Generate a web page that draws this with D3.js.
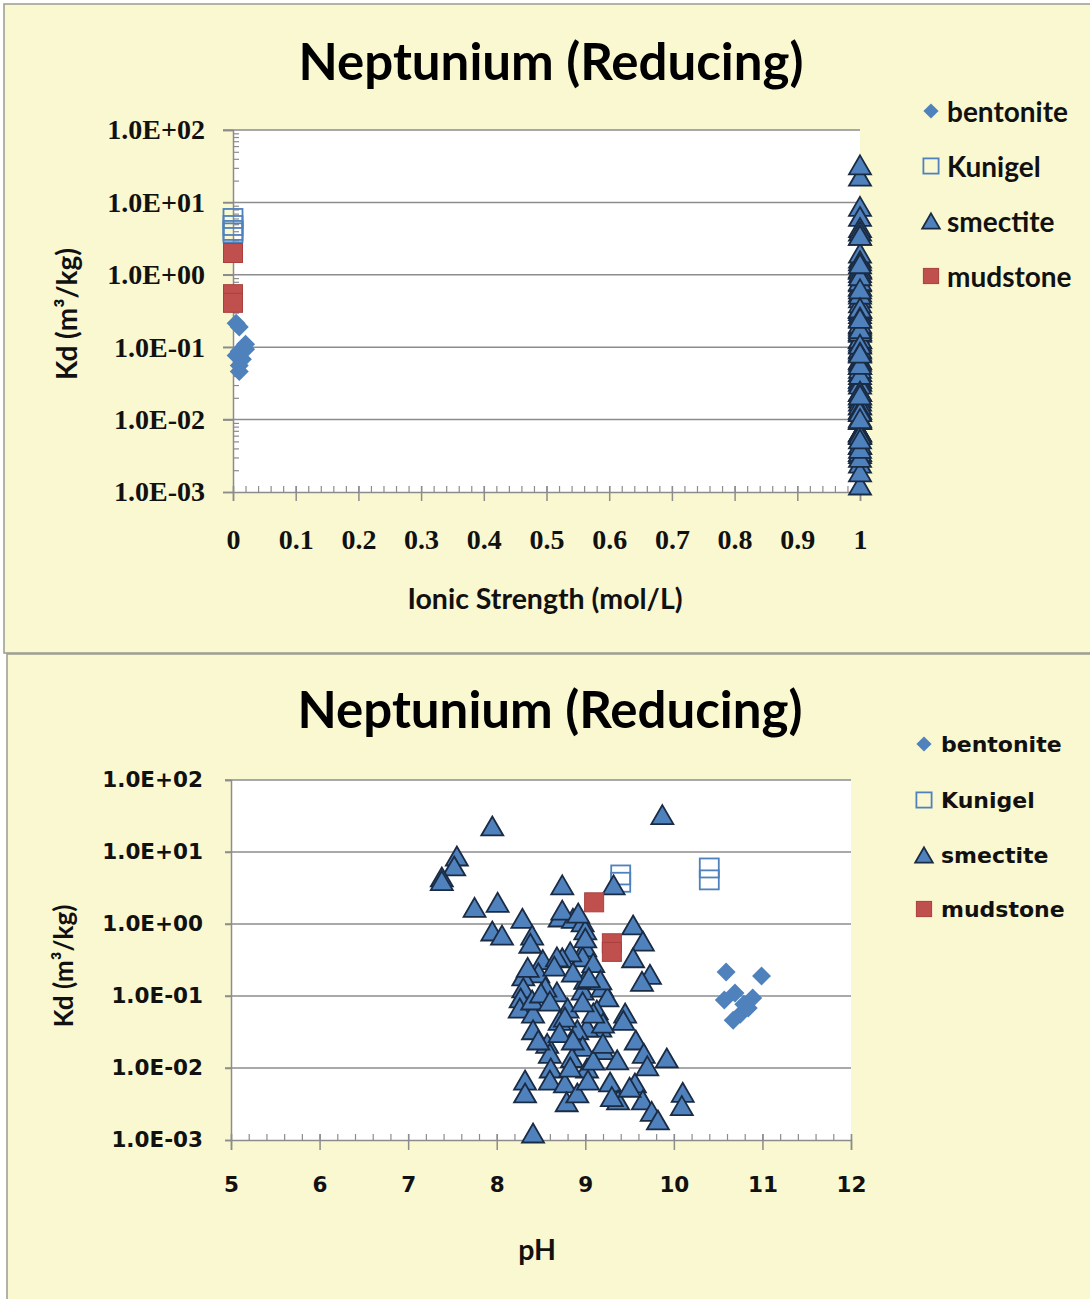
<!DOCTYPE html>
<html>
<head>
<meta charset="utf-8">
<script src="https://cdn.jsdelivr.net/npm/d3@7"></script>
<style>
  html, body { margin: 0; padding: 0; background: #ffffff; }
  svg { display: block; }
</style>
</head>
<body>
<svg id="chart" width="1090" height="1299"></svg>
<script>
// ---- Axis ticks ----
const kdTickValues = [1e-3, 1e-2, 1e-1, 1e0, 1e1, 1e2];
const kdTickLabels = ["1.0E-03", "1.0E-02", "1.0E-01", "1.0E+00", "1.0E+01", "1.0E+02"];
const ionicTickValues = [0, 0.1, 0.2, 0.3, 0.4, 0.5, 0.6, 0.7, 0.8, 0.9, 1];
const ionicTickLabels = ["0", "0.1", "0.2", "0.3", "0.4", "0.5", "0.6", "0.7", "0.8", "0.9", "1"];
const phTickValues = [5, 6, 7, 8, 9, 10, 11, 12];
const phTickLabels = ["5", "6", "7", "8", "9", "10", "11", "12"];

// ---- Series ----
const seriesNames = ["bentonite", "Kunigel", "smectite", "mudstone"];

const bentonitePH    = [10.59, 10.99, 10.57, 10.69, 10.67, 10.75, 10.84, 10.89, 10.79];
const bentoniteIonic = [0.005, 0.010, 0.010, 0.020, 0.010, 0.010, 0.015, 0.020, 0.005];
const bentoniteKd    = [0.215, 0.19, 0.088, 0.11, 0.046, 0.056, 0.068, 0.094, 0.077];

const kunigelPH    = [9.4, 9.4, 10.4, 10.4];
const kunigelIonic = [0, 0, 0, 0];
const kunigelKd    = [4.8, 3.8, 6.0, 4.1];

const smectitePH = [
  7.95, 9.87, 7.55, 7.52, 7.38, 7.38, 7.75, 8.01, 7.95, 8.06,
  8.29, 8.40, 8.74, 8.71, 8.86, 8.97, 9.00, 9.32, 9.54, 9.65,
  9.54, 9.73, 9.64, 9.00, 8.97, 8.83, 8.74, 8.52, 8.47, 8.30,
  8.30, 8.27, 8.26, 8.41, 8.40, 8.41, 8.57, 8.60, 8.61, 8.60,
  8.32, 8.32, 8.41, 8.68, 8.80, 8.71, 8.97, 9.00, 9.19, 9.25,
  9.13, 9.17, 9.02, 8.91, 8.97, 8.85, 9.20, 9.02, 8.77, 8.79,
  8.91, 9.03, 9.28, 9.36, 9.37, 9.45, 9.43, 9.57, 9.66, 9.70,
  9.56, 9.65, 9.75, 9.82, 9.92, 10.10, 10.09, 8.38, 8.55, 8.77,
  8.71, 9.20, 9.09, 8.86, 9.09, 8.83, 9.30, 9.50, 8.86, 9.09,
  9.00, 8.74, 8.92, 8.68, 9.17, 8.47, 9.20, 9.04, 8.65, 8.35,
  8.50, 8.60, 8.97
];
const smectiteIonic = [
  1, 1, 1, 1, 1, 1, 1, 1, 1, 1,
  1, 1, 1, 1, 1, 1, 1, 1, 1, 1,
  1, 1, 1, 1, 1, 1, 1, 1, 1, 1,
  1, 1, 1, 1, 1, 1, 1, 1, 1, 1,
  1, 1, 1, 1, 1, 1, 1, 1, 1, 1,
  1, 1, 1, 1, 1, 1, 1, 1, 1, 1,
  1, 1, 1, 1, 1, 1, 1, 1, 1, 1,
  1, 1, 1, 1, 1, 1, 1, 1, 1, 1,
  1, 1, 1, 1, 1, 1, 1, 1, 1, 1,
  1, 1, 1, 1, 1, 1, 1, 1, 1, 1,
  1, 1, 1
];
const smectiteKd = [
  23, 33, 8.8, 6.4, 4.5, 4.0, 1.7, 2.0, 0.80, 0.70,
  1.2, 0.70, 3.5, 1.25, 1.2, 1.07, 0.83, 3.5, 0.97, 0.58,
  0.34, 0.20, 0.16, 0.48, 0.35, 0.41, 0.34, 0.32, 0.21, 0.19,
  0.13, 0.094, 0.068, 0.058, 0.088, 0.034, 0.022, 0.016, 0.010, 0.0068,
  0.0068, 0.0045, 0.00125, 0.114, 0.068, 0.046, 0.121, 0.17, 0.133, 0.097,
  0.064, 0.037, 0.037, 0.034, 0.020, 0.014, 0.018, 0.010, 0.0062, 0.0034,
  0.0045, 0.0068, 0.0064, 0.013, 0.0036, 0.058, 0.046, 0.0245, 0.016, 0.0107,
  0.0062, 0.0036, 0.0025, 0.0019, 0.0138, 0.0046, 0.0030, 0.54, 0.133, 0.051,
  0.031, 0.042, 0.058, 0.0245, 0.0129, 0.0103, 0.0040, 0.0054, 0.215, 0.29,
  0.64, 1.56, 1.42, 0.35, 0.167, 0.0245, 0.022, 0.18, 0.26, 0.25,
  0.11, 0.085, 0.083
];

const mudstonePH    = [9.1, 9.3, 9.3];
const mudstoneIonic = [0, 0, 0];
const mudstoneKd    = [2.0, 0.54, 0.41];

// ---- Styling ----
const PANEL_BG = "#faf8d0";
const BLUE = "#4f81bd";
const RED = "#c0504d";
const GRID = "#8c8c8c";

const svg = d3.select("#chart");

function zip(xs, ys) { return xs.map((x, i) => ({ x, y: ys[i] })); }

// marker painters (centred at 0,0)
const markers = {
  bentonite(sel, s) {
    const r = 9.5 * s;
    sel.append("path").attr("d", `M0,${-r}L${r},0L0,${r}L${-r},0Z`).attr("fill", BLUE);
  },
  Kunigel(sel, s) {
    const h = 9.5 * s;
    sel.append("rect").attr("x", -h).attr("y", -h).attr("width", 2 * h).attr("height", 2 * h)
      .attr("fill", "none").attr("stroke", BLUE).attr("stroke-width", 1.8);
  },
  smectite(sel, s) {
    const w = 11 * s, h = 9.5 * s;
    sel.append("path").attr("d", `M0,${-h}L${w},${h}L${-w},${h}Z`)
      .attr("fill", BLUE).attr("stroke", "#1a2b44").attr("stroke-width", 1.8).attr("stroke-linejoin", "miter");
  },
  mudstone(sel, s) {
    const h = 9.5 * s;
    sel.append("rect").attr("x", -h).attr("y", -h).attr("width", 2 * h).attr("height", 2 * h)
      .attr("fill", RED).attr("stroke", "#a9403d").attr("stroke-width", 1);
  }
};

function drawPanel(cfg) {
  const g = svg.append("g");
  g.append("rect").attr("x", cfg.frame[0]).attr("y", cfg.frame[1])
    .attr("width", cfg.frame[2]).attr("height", cfg.frame[3])
    .attr("fill", PANEL_BG).attr("stroke", "#9a9a90").attr("stroke-width", 1.5);

  const x = d3.scaleLinear().domain(cfg.xDomain).range([cfg.left, cfg.right]);
  const y = d3.scaleLog().domain([1e-3, 1e2]).range([cfg.bottom, cfg.top]);

  // plot area
  g.append("rect").attr("x", cfg.left).attr("y", cfg.top)
    .attr("width", cfg.right - cfg.left).attr("height", cfg.bottom - cfg.top).attr("fill", "#ffffff");

  // horizontal gridlines at each decade
  g.append("g").selectAll("line").data(kdTickValues.slice(1)).join("line")
    .attr("x1", cfg.left - cfg.yMajorOut).attr("x2", cfg.right)
    .attr("y1", d => y(d)).attr("y2", d => y(d))
    .attr("stroke", GRID).attr("stroke-width", 1.5);

  // y axis
  const yAxis = g.append("g").attr("transform", `translate(${cfg.left},0)`)
    .call(d3.axisLeft(y).tickValues(kdTickValues)
      .tickFormat((d, i) => kdTickLabels[i]).tickSize(cfg.yMajorOut).tickPadding(cfg.yPad));
  yAxis.select(".domain").attr("stroke", GRID).attr("stroke-width", 1.5);
  yAxis.selectAll(".tick line").attr("stroke", GRID).attr("stroke-width", 1.5);
  yAxis.selectAll("text").attr("fill", "#111").style("font-family", cfg.tickFont)
    .style("font-size", cfg.tickSize + "px").style("font-weight", "bold");

  if (cfg.yMinor) {
    const minor = [];
    for (let e = -3; e < 2; e++) for (let m = 2; m <= 9; m++) minor.push(m * Math.pow(10, e));
    const ym = g.append("g").attr("transform", `translate(${cfg.left},0)`)
      .call(d3.axisLeft(y).tickValues(minor).tickFormat("").tickSize(-6));
    ym.select(".domain").remove();
    ym.selectAll(".tick line").attr("stroke", GRID).attr("stroke-width", 1.2);
  }

  // x axis: major ticks cross the line, minor ticks point up
  const xAxis = g.append("g").attr("transform", `translate(0,${cfg.bottom})`)
    .call(d3.axisBottom(x).tickValues(cfg.xTicks)
      .tickFormat((d, i) => cfg.xLabels[i]).tickSize(cfg.xMajorOut).tickPadding(cfg.xPad));
  xAxis.select(".domain").attr("stroke", GRID).attr("stroke-width", 1.5);
  xAxis.selectAll(".tick line").attr("stroke", GRID).attr("stroke-width", 1.5).attr("y1", -6);
  xAxis.selectAll("text").attr("fill", "#111").style("font-family", cfg.tickFont)
    .style("font-size", cfg.tickSize + "px").style("font-weight", "bold");

  const minorX = d3.range(cfg.xDomain[0], cfg.xDomain[1] + 1e-9, cfg.xMinorStep);
  const xm = g.append("g").attr("transform", `translate(0,${cfg.bottom})`)
    .call(d3.axisBottom(x).tickValues(minorX).tickFormat("").tickSize(-6));
  xm.select(".domain").remove();
  xm.selectAll(".tick line").attr("stroke", GRID).attr("stroke-width", 1.2);

  // points, drawn in series order
  cfg.series.forEach(sr => {
    const pts = g.append("g");
    zip(sr.xs, sr.ys).forEach(p => {
      const m = pts.append("g").attr("transform", `translate(${x(p.x)},${y(p.y)})`);
      markers[sr.name](m, 1);
    });
  });

  // title
  g.append("text").attr("x", cfg.titleX).attr("y", cfg.titleY).attr("text-anchor", "middle")
    .style("font-family", "Lato").style("font-weight", "bold").style("font-size", "51px")
    .attr("fill", "#000").text("Neptunium (Reducing)");

  // axis titles
  g.append("text").attr("transform", `translate(${cfg.yTitleX},${cfg.yTitleY}) rotate(-90)`)
    .attr("text-anchor", "middle").attr("dominant-baseline", "central")
    .style("font-family", "Lato").style("font-weight", "bold").style("font-size", cfg.yTitleSize + "px")
    .attr("fill", "#111")
    .text("Kd (m³/kg)");
  g.append("text").attr("x", cfg.xTitleX).attr("y", cfg.xTitleY)
    .attr("text-anchor", "middle").attr("dominant-baseline", "central")
    .style("font-family", "Lato").style("font-weight", "bold").style("font-size", "28.5px")
    .attr("fill", "#111").text(cfg.xTitle);

  // legend
  seriesNames.forEach((name, i) => {
    const ly = cfg.legendY[i];
    const m = g.append("g").attr("transform", `translate(${cfg.legendMarkerX},${ly})`);
    markers[name](m, 0.8);
    g.append("text").attr("x", cfg.legendTextX).attr("y", ly)
      .attr("dominant-baseline", "central")
      .style("font-family", cfg.legendFont).style("font-weight", "bold")
      .style("font-size", cfg.legendSize + "px").attr("fill", "#111").text(name);
  });
}

// upper panel: Kd against ionic strength
drawPanel({
  frame: [4, 4, 1100, 649],
  left: 233, right: 860, top: 130, bottom: 492,
  xDomain: [0, 1], xTicks: ionicTickValues, xLabels: ionicTickLabels, xMinorStep: 0.02,
  yMinor: true, yMajorOut: 10, yPad: 18, xMajorOut: 9, xPad: 28,
  tickFont: "Liberation Serif", tickSize: 28,
  titleX: 551, titleY: 80,
  yTitleX: 66, yTitleY: 314, yTitleSize: 28,
  xTitle: "Ionic Strength (mol/L)", xTitleX: 545, xTitleY: 598,
  legendMarkerX: 931, legendTextX: 947, legendY: [111, 166, 221, 276],
  legendFont: "Lato", legendSize: 28,
  series: [
    { name: "bentonite", xs: bentoniteIonic, ys: bentoniteKd },
    { name: "Kunigel", xs: kunigelIonic, ys: kunigelKd },
    { name: "smectite", xs: smectiteIonic, ys: smectiteKd },
    { name: "mudstone", xs: mudstoneIonic, ys: mudstoneKd }
  ]
});

// lower panel: Kd against pH
drawPanel({
  frame: [7, 654, 1100, 660],
  left: 231, right: 851, top: 780, bottom: 1140,
  xDomain: [5, 12], xTicks: phTickValues, xLabels: phTickLabels, xMinorStep: 0.2,
  yMinor: false, yMajorOut: 6, yPad: 22, xMajorOut: 10, xPad: 27,
  tickFont: "DejaVu Sans", tickSize: 21.5,
  titleX: 550, titleY: 728,
  yTitleX: 63, yTitleY: 966, yTitleSize: 26,
  xTitle: "pH", xTitleX: 537, xTitleY: 1249,
  legendMarkerX: 924, legendTextX: 941, legendY: [744, 800, 855, 909],
  legendFont: "DejaVu Sans", legendSize: 22,
  series: [
    { name: "bentonite", xs: bentonitePH, ys: bentoniteKd },
    { name: "Kunigel", xs: kunigelPH, ys: kunigelKd },
    { name: "smectite", xs: smectitePH, ys: smectiteKd },
    { name: "mudstone", xs: mudstonePH, ys: mudstoneKd }
  ]
});
</script>
</body>
</html>
